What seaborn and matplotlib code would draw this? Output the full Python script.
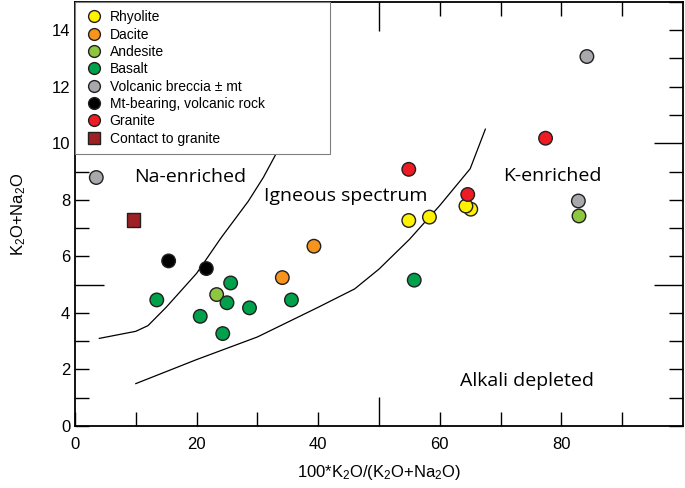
import pandas as pd
import seaborn as sns
import matplotlib.pyplot as plt

# sample data: (100*K2O/(K2O+Na2O), K2O+Na2O)
rhyolite_x = [65.1, 64.3, 54.9, 58.3]
rhyolite_y = [7.67, 7.78, 7.27, 7.39]
dacite_x = [34.1, 39.3]
dacite_y = [5.25, 6.36]
andesite_x = [23.3, 82.9]
andesite_y = [4.65, 7.43]
basalt_x = [13.45, 20.6, 25.6, 25.0, 28.7, 24.3, 35.6, 55.8]
basalt_y = [4.46, 3.88, 5.06, 4.36, 4.18, 3.27, 4.46, 5.16]
breccia_x = [3.5, 84.2, 82.8]
breccia_y = [8.79, 13.07, 7.96]
mt_x = [15.4, 21.6]
mt_y = [5.84, 5.57]
granite_x = [77.4, 54.9, 64.6]
granite_y = [10.18, 9.08, 8.19]
contact_x = [9.6]
contact_y = [7.28]

# field boundaries
upper_x = [4.0, 10.0, 12.0, 15.0, 20.0, 24.0, 28.5, 31.0, 33.0, 34.5]
upper_y = [3.1, 3.35, 3.55, 4.2, 5.4, 6.65, 7.95, 8.8, 9.6, 10.4]
lower_x = [10.0, 20.0, 30.0, 40.0, 46.0, 50.0, 55.0, 60.0, 65.0, 67.5]
lower_y = [1.5, 2.35, 3.15, 4.2, 4.85, 5.55, 6.6, 7.8, 9.1, 10.5]

types = ["Rhyolite", "Dacite", "Andesite", "Basalt", "Volcanic breccia \u00b1 mt",
         "Mt-bearing, volcanic rock", "Granite", "Contact to granite"]
colors = ["#FFF200", "#F7941D", "#8DC63F", "#00A14B", "#A7A9AC",
          "#000000", "#ED1C24", "#9E1F24"]

x_major = [0, 20, 40, 60, 80]
x_minor = [10, 30, 50, 70, 90]
y_major = list(range(0, 15, 2))
y_minor = list(range(1, 16, 2))

xs = [rhyolite_x, dacite_x, andesite_x, basalt_x, breccia_x, mt_x, granite_x, contact_x]
ys = [rhyolite_y, dacite_y, andesite_y, basalt_y, breccia_y, mt_y, granite_y, contact_y]
frames = [pd.DataFrame({"x": a, "y": b, "type": t}) for a, b, t in zip(xs, ys, types)]
df = pd.concat(frames, ignore_index=True)

plt.rcParams["font.family"] = ["Liberation Sans", "DejaVu Sans"]
plt.rcParams["mathtext.fontset"] = "custom"
plt.rcParams["mathtext.rm"] = "Liberation Sans"
plt.rcParams["mathtext.it"] = "Liberation Sans:italic"

fig = plt.figure(figsize=(6.85, 4.88), dpi=100)
ax = fig.add_axes([0.1095, 0.127, 0.8875, 0.869])

ax.plot(upper_x, upper_y, color="black", lw=0.9, zorder=1)
ax.plot(lower_x, lower_y, color="black", lw=0.9, zorder=1)

markers = {t: "o" for t in types}
markers["Contact to granite"] = "s"
sns.scatterplot(data=df, x="x", y="y", hue="type", style="type", hue_order=types,
                style_order=types, palette=dict(zip(types, colors)), markers=markers,
                s=95, edgecolor="#231F20", linewidth=1, ax=ax, zorder=3)

# field labels
lab_font = dict(family=["Open Sans", "DejaVu Sans"], fontsize=14, ha="center", va="center")
ax.text(19.0, 8.8, "Na-enriched", **lab_font)
ax.text(44.6, 8.12, "Igneous spectrum", **lab_font)
ax.text(78.5, 8.83, "K-enriched", **lab_font)
ax.text(74.4, 1.59, "Alkali depleted", **lab_font)

ax.set_xlim(0, 100)
ax.set_ylim(0, 15)
ax.set_xticks(x_major)
ax.set_xticks(x_minor, minor=True)
ax.set_yticks(y_major)
ax.set_yticks(y_minor, minor=True)
ax.tick_params(which="both", direction="in", top=True, right=True, length=10,
               width=1, color="black", labelsize=12, labelcolor="black")
ax.tick_params(axis="x", pad=8)
for sp in ax.spines.values():
    sp.set_linewidth(1.3)
    sp.set_color("black")

# longer ticks at x=50 and y=5, 10
long_ticks = [ax.xaxis.get_minor_ticks()[x_minor.index(50)],
              ax.yaxis.get_minor_ticks()[y_minor.index(5)],
              ax.yaxis.get_major_ticks()[y_major.index(10)]]
for tk in long_ticks:
    tk.tick1line.set_markersize(21)
    tk.tick2line.set_markersize(21)

ax.set_xlabel(r"100*K$_2$O/(K$_2$O+Na$_2$O)", fontsize=12, labelpad=8)
ax.set_ylabel(r"K$_2$O+Na$_2$O", fontsize=12, labelpad=17)

handles, labels = ax.get_legend_handles_labels()
for h in handles:
    h.set_markeredgecolor("#231F20")
    h.set_markeredgewidth(1)
    h.set_markersize(8.5)
leg = ax.legend(handles, labels, loc="upper left", bbox_to_anchor=(0, 0, 0.42, 1),
                mode="expand", borderaxespad=0, fontsize=10, labelspacing=0.24,
                handlelength=1.6, handletextpad=0.3, borderpad=0.6,
                frameon=True, fancybox=False, edgecolor="#808080", framealpha=1)
leg.get_frame().set_linewidth(0.8)
leg.set_zorder(5)

fig.savefig("out.png", dpi=100)
